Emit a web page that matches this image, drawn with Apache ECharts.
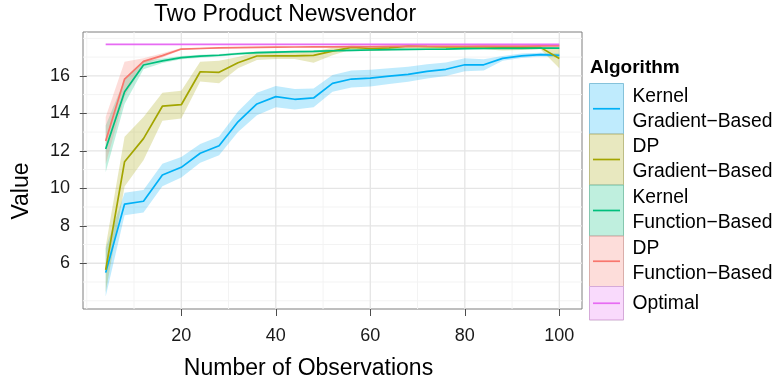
<!DOCTYPE html>
<html><head><meta charset="utf-8">
<script src="https://cdn.jsdelivr.net/npm/echarts@6/dist/echarts.min.js"></script>
<style>html,body{margin:0;padding:0;background:#fff}#c{width:775px;height:375px}</style>
</head><body><div id="c"></div>
<script>
// ---- data ----
const xs = [4,8,12,16,20,24,28,32,36,40,44,48,52,56,60,64,68,72,76,80,84,88,92,96,100];

const kernelGradMean = [5.50,9.16,9.31,10.71,11.12,11.87,12.27,13.55,14.50,14.89,14.75,14.82,15.60,15.83,15.88,15.99,16.08,16.24,16.35,16.59,16.59,16.93,17.07,17.13,17.09];
const kernelGradLo   = [4.23,8.56,8.71,10.11,10.57,11.37,11.77,13.00,13.90,14.32,14.20,14.32,15.15,15.38,15.43,15.57,15.68,15.86,15.99,16.24,16.29,16.80,16.95,17.03,16.99];
const kernelGradHi   = [6.80,9.76,9.91,11.31,11.67,12.37,12.77,14.10,15.10,15.46,15.30,15.32,16.05,16.28,16.33,16.41,16.48,16.62,16.71,16.94,16.89,17.06,17.19,17.23,17.19];

const dpGradMean = [5.65,11.42,12.65,14.38,14.46,16.22,16.19,16.70,17.06,17.07,17.07,17.09,17.32,17.52,17.46,17.49,17.59,17.56,17.55,17.55,17.55,17.53,17.52,17.52,16.93];
const dpGradLo   = [4.45,10.10,11.50,13.60,13.72,15.70,15.60,16.40,16.85,16.90,16.90,16.70,17.10,17.40,17.33,17.37,17.48,17.45,17.44,17.44,17.42,17.35,17.38,17.42,16.40];
const dpGradHi   = [6.90,12.75,13.80,15.10,15.20,16.75,16.80,17.00,17.27,17.25,17.25,17.30,17.50,17.62,17.58,17.60,17.68,17.66,17.65,17.65,17.64,17.62,17.62,17.62,17.47];

const kernelFuncMean = [12.10,15.15,16.58,16.80,16.97,17.05,17.10,17.18,17.24,17.27,17.29,17.31,17.34,17.36,17.38,17.40,17.41,17.42,17.43,17.45,17.46,17.47,17.47,17.48,17.48];
const kernelFuncLo   = [10.85,14.50,16.35,16.68,16.88,16.97,17.03,17.11,17.18,17.21,17.24,17.26,17.29,17.31,17.33,17.35,17.37,17.38,17.39,17.41,17.42,17.43,17.43,17.44,17.44];
const kernelFuncHi   = [13.35,15.80,16.80,16.92,17.06,17.13,17.17,17.25,17.30,17.33,17.34,17.36,17.39,17.41,17.43,17.45,17.45,17.46,17.47,17.49,17.50,17.51,17.51,17.52,17.52];

const dpFuncMean = [12.52,15.83,16.77,17.08,17.43,17.46,17.49,17.51,17.52,17.53,17.54,17.55,17.55,17.56,17.56,17.57,17.57,17.58,17.58,17.58,17.59,17.59,17.59,17.60,17.60];
const dpFuncLo   = [11.30,14.90,16.60,16.98,17.38,17.42,17.46,17.48,17.49,17.50,17.51,17.52,17.52,17.53,17.53,17.54,17.54,17.55,17.55,17.55,17.56,17.56,17.56,17.57,17.57];
const dpFuncHi   = [13.80,16.75,16.94,17.20,17.48,17.50,17.52,17.54,17.55,17.56,17.57,17.58,17.58,17.59,17.59,17.60,17.60,17.61,17.61,17.61,17.62,17.62,17.62,17.63,17.63];

const optimalMean = [17.68,17.68,17.68,17.68,17.68,17.68,17.68,17.68,17.68,17.68,17.68,17.68,17.68,17.68,17.68,17.68,17.68,17.68,17.68,17.68,17.68,17.68,17.68,17.68,17.68];
const optimalLo   = [17.67,17.67,17.67,17.67,17.67,17.67,17.67,17.67,17.67,17.67,17.67,17.67,17.67,17.67,17.67,17.67,17.67,17.67,17.67,17.67,17.67,17.67,17.67,17.67,17.67];
const optimalHi   = [17.69,17.69,17.69,17.69,17.69,17.69,17.69,17.69,17.69,17.69,17.69,17.69,17.69,17.69,17.69,17.69,17.69,17.69,17.69,17.69,17.69,17.69,17.69,17.69,17.69];

const seriesNames = ['Kernel Gradient\u2212Based','DP Gradient\u2212Based','Kernel Function\u2212Based','DP Function\u2212Based','Optimal'];
const legendLabels = ['Kernel\nGradient\u2212Based','DP\nGradient\u2212Based','Kernel\nFunction\u2212Based','DP\nFunction\u2212Based','Optimal'];
const xTicks = [20,40,60,80,100];
const xMinor = [0,10,30,50,70,90];
const yTicks = [6,8,10,12,14,16];
const yMinor = [4,5,7,9,11,13,15,17,18];
const xLimits = [-0.8, 104.8];
const yLimits = [3.56, 18.34];

// ---- styling ----
const colors = ['#00B0F6','#A3A500','#00BF7D','#F8766D','#E76BF3'];
const fills  = ['rgba(0,176,246,0.25)','rgba(163,165,0,0.25)','rgba(0,191,125,0.25)','rgba(248,118,109,0.25)','rgba(231,107,243,0.25)'];
const FONT = '"Liberation Sans", Arial, Helvetica, sans-serif';

const means = [kernelGradMean, dpGradMean, kernelFuncMean, dpFuncMean, optimalMean];
const los = [kernelGradLo, dpGradLo, kernelFuncLo, dpFuncLo, optimalLo];
const his = [kernelGradHi, dpGradHi, kernelFuncHi, dpFuncHi, optimalHi];

const chart = echarts.init(document.getElementById('c'), null, {renderer:'canvas'});

function gridSeries(vals, dir, color, width) {
  return {
    type:'custom', coordinateSystem:'cartesian2d', silent:true, z:0,
    data: vals.map(v => dir === 'x' ? [v, yLimits[0]] : [xLimits[0], v]),
    encode: {x:0, y:1},
    renderItem: function(params, api) {
      const v = vals[params.dataIndex];
      const a = dir === 'x' ? api.coord([v, yLimits[0]]) : api.coord([xLimits[0], v]);
      const b = dir === 'x' ? api.coord([v, yLimits[1]]) : api.coord([xLimits[1], v]);
      return {type:'line', shape:{x1:a[0],y1:a[1],x2:b[0],y2:b[1]}, style:{stroke:color, lineWidth:width}};
    }
  };
}

function ribbon(i) {
  const lo = los[i], hi = his[i];
  return {
    type:'custom', name: seriesNames[i], coordinateSystem:'cartesian2d', silent:true, z:1,
    data: xs.map((x,k)=>[x, lo[k], hi[k]]),
    encode: {x:0, y:[1,2]},
    renderItem: function(params, api) {
      if (params.dataIndex !== 0) return null;
      const pts = [];
      for (let k=0;k<xs.length;k++) pts.push(api.coord([xs[k], hi[k]]));
      for (let k=xs.length-1;k>=0;k--) pts.push(api.coord([xs[k], lo[k]]));
      return {type:'polygon', shape:{points:pts}, style:{fill: fills[i], stroke:null}};
    }
  };
}

function lineSeries(i) {
  return {
    type:'line', name: seriesNames[i], z:3, showSymbol:false, silent:true, animation:false,
    data: xs.map((x,k)=>[x, means[i][k]]),
    lineStyle:{color: colors[i], width: 1.7},
    itemStyle:{color: colors[i]}
  };
}

const series = [
  gridSeries(xMinor,'x','#F3F3F3',1), gridSeries(yMinor,'y','#F3F3F3',1),
  gridSeries(xTicks,'x','#E5E5E5',1.3), gridSeries(yTicks,'y','#E5E5E5',1.3)
];
for (let i=0;i<5;i++) series.push(ribbon(i));
for (let i=0;i<5;i++) series.push(lineSeries(i));

// legend drawn as graphic
const keyTops = [83.5, 134, 185, 236, 286.5, 320];
const graphic = [{type:'text', left:590, top:58, style:{text:'Algorithm', font:'bold 19px ' + FONT, fill:'#000'}}];
for (let i=0;i<5;i++) {
  const y0 = keyTops[i], h = keyTops[i+1]-keyTops[i];
  graphic.push({type:'rect', shape:{x:589.5,y:y0,width:34,height:h}, style:{fill:'#fff', stroke:'#CCCCCC', lineWidth:1}});
  graphic.push({type:'rect', shape:{x:589.5,y:y0,width:34,height:h}, style:{fill:fills[i], stroke:fills[i], lineWidth:1}});
  graphic.push({type:'line', shape:{x1:593,y1:y0+h/2,x2:620,y2:y0+h/2}, style:{stroke:colors[i], lineWidth:1.7}});
  graphic.push({type:'text', x:632.5, y:y0+h/2, style:{text:legendLabels[i], font:'19.3px ' + FONT, fill:'#000', verticalAlign:'middle', lineHeight:25}});
}

chart.setOption({
  animation:false,
  backgroundColor:'#fff',
  title:{text:'Two Product Newsvendor', left:154, top:3, padding:0,
    textStyle:{fontFamily:FONT, fontSize:23, fontWeight:'normal', color:'#000'}},
  grid:{left:83, top:32, width:499, height:277, containLabel:false, outerBoundsMode:'none',
    show:true, borderColor:'#7F7F7F', borderWidth:1, backgroundColor:'transparent'},
  xAxis:{type:'value', min:xLimits[0], max:xLimits[1],
    name:'Number of Observations', nameLocation:'middle', nameGap:48,
    nameTextStyle:{fontFamily:FONT, fontSize:23, color:'#000', padding:[0,48,0,0]},
    axisLine:{show:false},
    axisTick:{show:true, length:7, customValues:xTicks, lineStyle:{color:'#4D4D4D'}},
    axisLabel:{customValues:xTicks, margin:18, fontFamily:FONT, fontSize:18, color:'#1A1A1A'},
    splitLine:{show:false}, minorSplitLine:{show:false}},
  yAxis:{type:'value', min:yLimits[0], max:yLimits[1],
    name:'Value', nameLocation:'middle', nameGap:50, nameRotate:90,
    nameTextStyle:{fontFamily:FONT, fontSize:23, color:'#000', padding:[0,41,0,0]},
    axisLine:{show:false},
    axisTick:{show:true, length:7, customValues:yTicks, lineStyle:{color:'#4D4D4D'}},
    axisLabel:{customValues:yTicks, margin:13, fontFamily:FONT, fontSize:18, color:'#1A1A1A'},
    splitLine:{show:false}, minorSplitLine:{show:false}},
  series: series,
  graphic: graphic
});
</script></body></html>
